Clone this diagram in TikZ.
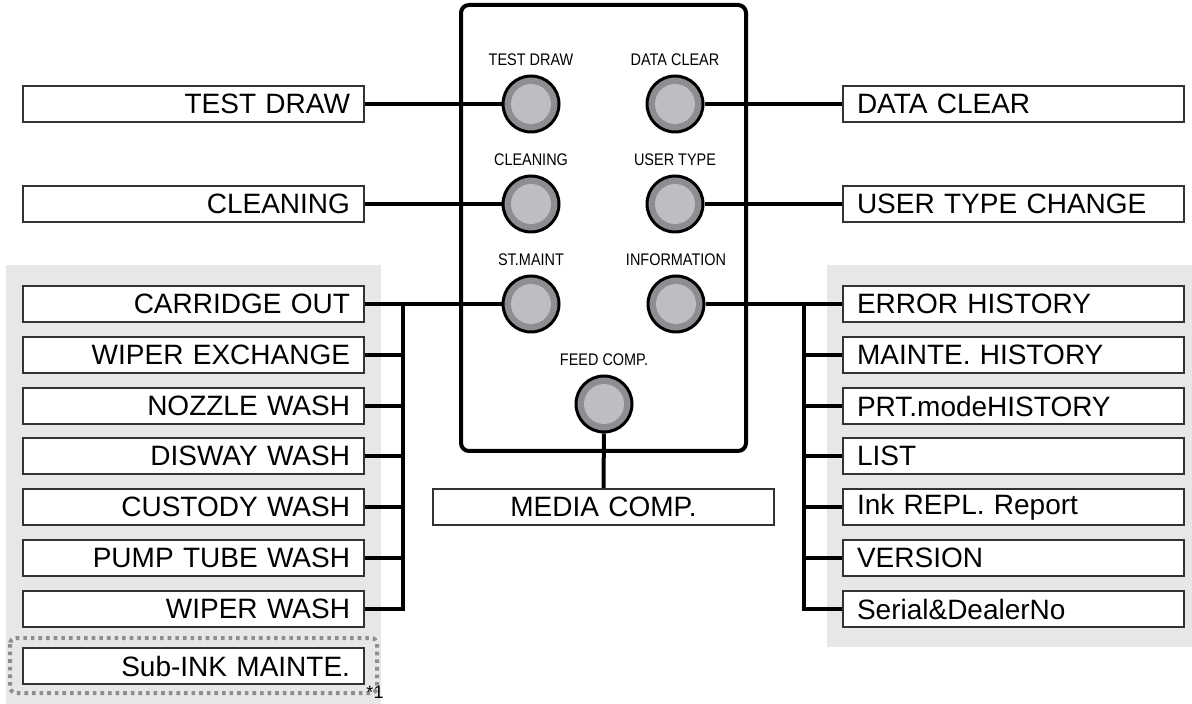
\documentclass[tikz,border=0pt]{standalone}
\usepackage{fontspec}
\setmainfont{Liberation Sans}
\newfontfamily\narrowfont[FakeStretch=0.86]{Liberation Sans}
\usetikzlibrary{positioning}

\definecolor{bgGray}{HTML}{E6E7E8}
\definecolor{btnOuter}{HTML}{8C8E91}
\definecolor{btnInner}{HTML}{BDBEC1}
\definecolor{boxLine}{HTML}{333333}
\definecolor{dotGray}{HTML}{8E8E8E}

\tikzset{
	menubox/.style={draw=boxLine, line width=0.8pt, fill=white, minimum height=18pt,
		text width=156.5pt, inner xsep=7pt, inner ysep=0pt, font=\fontsize{14}{16}\selectfont},
	lbox/.style={menubox, align=right},
	rbox/.style={menubox, align=left},
	btn/.style={circle, draw=black, line width=1.5pt, fill=btnOuter, minimum size=28pt,
		path picture={\fill [btnInner] (path picture bounding box.center) circle (10pt);}},
	btnlabel/.style={inner sep=0pt, font=\narrowfont\fontsize{8.4}{9}\selectfont},
	conn/.style={line width=2pt, color=black},
}

\begin{document}
\begin{tikzpicture}[x=0.5pt, y=-0.5pt]
	\useasboundingbox (0,0) rectangle (1192,704);
	\fill [bgGray] (6,265) rectangle (381,704);
	\fill [bgGray] (827,265) rectangle (1192,647);
	\draw [line width=2pt, rounded corners=4pt] (461,5) rectangle (746,451);

	\node [btn] (tdBtn) at (531,104) {};
	\node [btn] (dcBtn) at (675,104) {};
	\node [btn] (clBtn) at (531,204) {};
	\node [btn] (utBtn) at (675,204) {};
	\node [btn] (smBtn) at (531,304) {};
	\node [btn] (inBtn) at (676,304) {};
	\node [btn] (fcBtn) at (604,404) {};
	\node [btnlabel, above=4pt of tdBtn] (tdLabel) {TEST DRAW};
	\node [btnlabel, above=4pt of dcBtn] (dcLabel) {DATA CLEAR};
	\node [btnlabel, above=4pt of clBtn] (clLabel) {CLEANING};
	\node [btnlabel, above=4pt of utBtn] (utLabel) {USER TYPE};
	\node [btnlabel, above=4pt of smBtn] (smLabel) {ST.MAINT};
	\node [btnlabel, above=4pt of inBtn] (inLabel) {INFORMATION};
	\node [btnlabel, above=4pt of fcBtn] (fcLabel) {FEED COMP.};

	\node [lbox] (tdBox) at (193.5,104) {TEST DRAW};
	\node [lbox] (clBox) at (193.5,204) {CLEANING};
	\node [lbox] (coBox) at (193.5,304) {CARRIDGE OUT};
	\node [lbox] (weBox) at (193.5,355) {WIPER EXCHANGE};
	\node [lbox] (nwBox) at (193.5,406) {NOZZLE WASH};
	\node [lbox] (dwBox) at (193.5,456) {DISWAY WASH};
	\node [lbox] (cwBox) at (193.5,507) {CUSTODY WASH};
	\node [lbox] (ptBox) at (193.5,558) {PUMP TUBE WASH};
	\node [lbox] (wwBox) at (193.5,609) {WIPER WASH};
	\node [lbox] (siBox) at (193.5,666) {Sub-INK MAINTE.};
	\draw [dotGray, line width=2pt, dash pattern=on 1.8pt off 2pt, rounded corners=3pt] (10,638) rectangle (377,693);
	\node [inner sep=0pt, font=\fontsize{9}{10}\selectfont] (note) at (375,692) {*1};

	\node [rbox] (dcBox) at (1013.5,104) {DATA CLEAR};
	\node [rbox] (utBox) at (1013.5,204) {USER TYPE CHANGE};
	\node [rbox] (ehBox) at (1013.5,304) {ERROR HISTORY};
	\node [rbox] (mhBox) at (1013.5,355) {MAINTE. HISTORY};
	\node [rbox] (pmBox) at (1013.5,406) {PRT.modeHISTORY};
	\node [rbox] (liBox) at (1013.5,456) {LIST};
	\node [rbox] (irBox) at (1013.5,507) {Ink REPL. Report};
	\node [rbox] (veBox) at (1013.5,558) {VERSION};
	\node [rbox] (sdBox) at (1013.5,609) {Serial\&DealerNo};
	\node [menubox, align=center] (mcBox) at (603.5,507) {MEDIA COMP.};

	\draw [conn] (tdBox) -- (tdBtn);
	\draw [conn] (clBox) -- (clBtn);
	\draw [conn] (coBox) -- (smBtn);
	\draw [conn] (dcBtn) -- (dcBox);
	\draw [conn] (utBtn) -- (utBox);
	\draw [conn] (inBtn) -- (ehBox);
	\draw [conn] (fcBtn) -- (mcBox);

	\coordinate (lBus) at (403,304);
	\draw [conn] (lBus) |- (wwBox);
	\draw [conn] (weBox) -- (weBox -| lBus);
	\draw [conn] (nwBox) -- (nwBox -| lBus);
	\draw [conn] (dwBox) -- (dwBox -| lBus);
	\draw [conn] (cwBox) -- (cwBox -| lBus);
	\draw [conn] (ptBox) -- (ptBox -| lBus);

	\coordinate (rBus) at (804,304);
	\draw [conn] (rBus) |- (sdBox);
	\draw [conn] (mhBox) -- (mhBox -| rBus);
	\draw [conn] (pmBox) -- (pmBox -| rBus);
	\draw [conn] (liBox) -- (liBox -| rBus);
	\draw [conn] (irBox) -- (irBox -| rBus);
	\draw [conn] (veBox) -- (veBox -| rBus);
\end{tikzpicture}
\end{document}
